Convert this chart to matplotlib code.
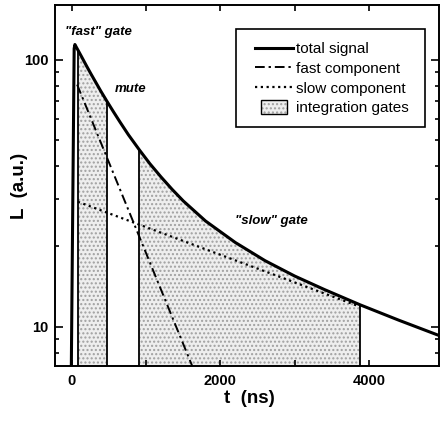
import numpy as np
import matplotlib
matplotlib.use("Agg")
import matplotlib.pyplot as plt
from matplotlib.lines import Line2D
from matplotlib.patches import Rectangle
from matplotlib.legend_handler import HandlerBase
from matplotlib.ticker import NullFormatter

plt.rcParams['font.family'] = ['Liberation Sans', 'DejaVu Sans']

# total scintillation signal (ns, a.u.)
t_total = [-20, 30, 40, 55, 80, 130, 200, 260, 320, 390, 470, 560, 650, 760,
           910, 1050, 1200, 1350, 1500, 1800, 2200, 2600, 3000, 3400, 3880,
           4400, 4960]
L_total = [3.0, 110, 114, 112, 108.8, 102.6, 94.4, 88.1, 82.4, 76.2, 70.0,
           63.8, 58.3, 52.4, 45.9, 40.8, 36.4, 32.7, 29.6, 24.9, 20.7, 17.7,
           15.5, 13.8, 12.1, 10.6, 9.25]

# single-exponential components
t_fast = [70, 1700]
L_fast = [80.7, 6.3]
t_slow = [80, 3880]
L_slow = [29.4, 11.9]

# gate edges (ns)
fast_gate = (80, 470)
slow_gate = (910, 3880)

STIPPLE = dict(facecolor='#eeeeee', edgecolor='#a0a0a0', hatch='....', lw=0)


class GateHandler(HandlerBase):
    def create_artists(self, legend, orig_handle, xdescent, ydescent,
                       width, height, fontsize, trans):
        w = width * 0.68
        h = height * 1.3
        x0 = -xdescent + (width - w) / 2
        y0 = -ydescent + (height - h) / 2
        fill = Rectangle((x0, y0), w, h, transform=trans, **STIPPLE)
        edge = Rectangle((x0, y0), w, h, facecolor='none',
                         edgecolor='black', lw=1.0, transform=trans)
        return [fill, edge]


fig = plt.figure(figsize=(4.4, 4.24), dpi=100)
ax = fig.add_axes([0.126, 0.1368, 0.872, 0.851])

t = np.array(t_total)
L = np.array(L_total)

for a, b in (fast_gate, slow_gate):
    m = (t >= a) & (t <= b)
    ax.fill_between(t[m], 1, L[m], zorder=1, **STIPPLE)
    for edge in (a, b):
        ax.plot([edge, edge], [1, L[t == edge][0]], color='black', lw=1.3,
                zorder=2)

ax.plot(t_fast, L_fast, color='black', lw=1.4, ls=(0, (5, 2, 1.2, 2)), zorder=3)
ax.plot(t_slow, L_slow, color='black', lw=1.6, ls=(0, (1, 1.6)), zorder=3)
ax.plot(t, L, color='black', lw=2.2, zorder=4)

ax.set_yscale('log')
ax.set_xlim(-222, 4945)
ax.set_ylim(7.14, 160)

ax.set_xticks([0, 1000, 2000, 3000, 4000])
ax.set_xticklabels(['0', '', '2000', '', '4000'])
ax.set_yticks([10, 100])
ax.set_yticklabels(['10', '100'])
ax.yaxis.set_minor_formatter(NullFormatter())

ax.tick_params(which='both', direction='in', top=True, right=True,
               width=1.2, labelsize=10.5)
ax.tick_params(axis='x', which='major', length=4, pad=6)
ax.tick_params(axis='y', which='major', length=6, pad=5)
ax.tick_params(axis='y', which='minor', length=3)
for lab in ax.get_xticklabels() + ax.get_yticklabels():
    lab.set_fontweight('bold')
for s in ax.spines.values():
    s.set_linewidth(1.4)

ax.set_xlabel('t  (ns)', fontsize=13.5, fontweight='bold')
ax.set_ylabel('L  (a.u.)', fontsize=13.5, fontweight='bold')
ax.xaxis.set_label_coords(0.506, -0.066)
ax.yaxis.set_label_coords(-0.0715, 0.5)

txt = dict(fontsize=9.5, fontstyle='italic', fontweight='bold', va='center')
ax.text(-95, 127, '"fast" gate', **txt)
ax.text(579, 77.8, 'mute', **txt)
ax.text(2196, 24.9, '"slow" gate', **txt)

# legend frame drawn separately so side padding can be wider than top/bottom
ax.add_patch(Rectangle((0.470, 0.663), 0.4935, 0.2697, transform=ax.transAxes,
                       facecolor='white', edgecolor='black', lw=1.2,
                       zorder=5))

handles = [
    Line2D([], [], color='black', lw=2.2),
    Line2D([], [], color='black', lw=1.4, ls=(0, (5, 2, 1.2, 2))),
    Line2D([], [], color='black', lw=1.6, ls=(0, (1, 1.6))),
    Rectangle((0, 0), 1, 1),
]
labels = ['total signal', 'fast component', 'slow component',
          'integration gates']
leg = ax.legend(handles, labels, loc='upper left',
                bbox_to_anchor=(0.520, 0.898), borderaxespad=0,
                fontsize=11, handlelength=2.5, handletextpad=0.2,
                labelspacing=0.38, borderpad=0, frameon=False,
                handler_map={Rectangle: GateHandler()})
leg.set_zorder(6)

fig.savefig('out.png', dpi=100)
